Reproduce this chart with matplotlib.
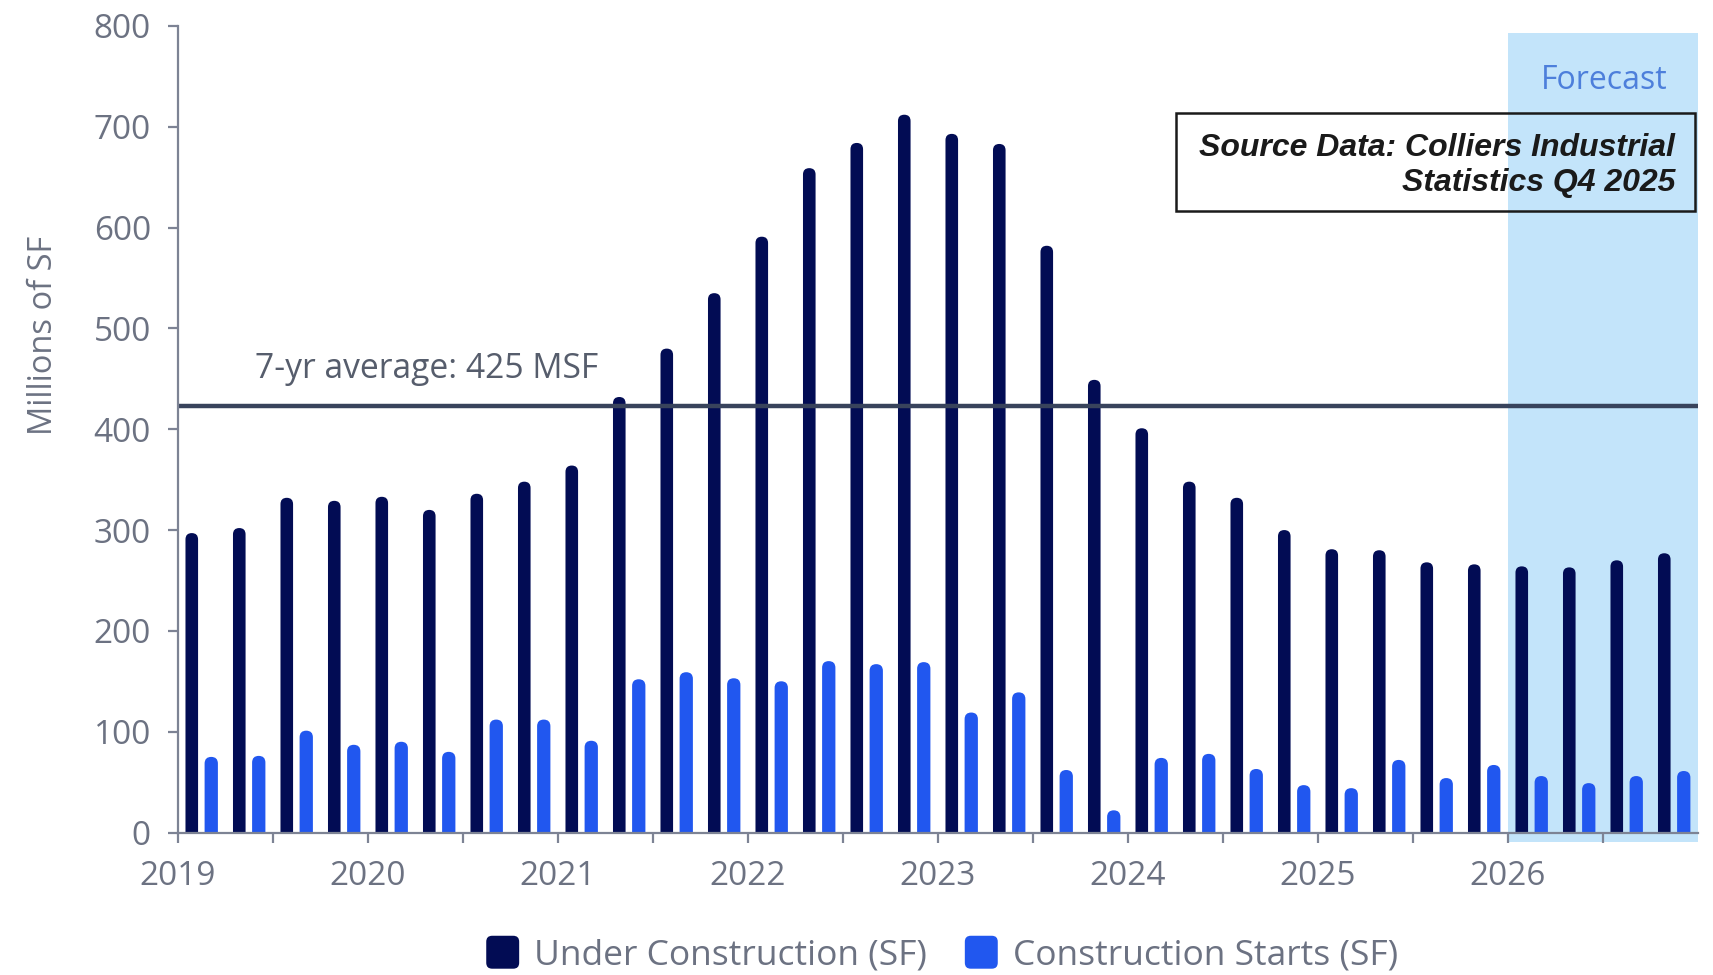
import matplotlib
matplotlib.use("Agg")
import numpy as np
import matplotlib.pyplot as plt
from matplotlib.patches import FancyBboxPatch, Rectangle, Patch
from matplotlib.legend_handler import HandlerPatch

plt.rcParams['font.family'] = ['Open Sans', 'DejaVu Sans']

# ---------------- data ----------------
year_labels = ['2019', '2020', '2021', '2022', '2023', '2024', '2025', '2026']
under_construction = [297, 302, 332, 329, 333, 320, 336, 348, 364, 432, 480, 535,
                      591, 659, 684, 712, 693, 683, 582, 449, 401, 348, 332, 300,
                      281, 280, 268, 266, 264, 263, 270, 277]
construction_starts = [75, 76, 101, 87, 90, 80, 112, 112, 91, 152, 159, 153,
                       150, 170, 167, 169, 119, 139, 62, 22, 74, 78, 63, 47,
                       44, 72, 54, 67, 56, 49, 56, 61]
avg_level = 423
avg_label = '7-yr average: 425 MSF'
forecast_start_q = 28
series_names = ['Under Construction (SF)', 'Construction Starts (SF)']
source_text = 'Source Data: Colliers Industrial\nStatistics Q4 2025'

# ---------------- style ----------------
DARK = '#020c54'
BLUE = '#2157ef'
SHADE = '#c3e4fa'
GRAY_TXT = '#6c7282'
AXIS_C = '#7d8394'

W, H = 1713, 975
fig = plt.figure(figsize=(W / 100, H / 100), dpi=100)
ax_left, ax_right, ax_y0, ax_y800 = 178, 1698, 832.5, 26
ax = fig.add_axes([ax_left / W, (H - ax_y0) / H, (ax_right - ax_left) / W, (ax_y0 - ax_y800) / H])

nq = len(under_construction)
ax.set_xlim(0, nq)
ax.set_ylim(0, 800)

px_per_x = (ax_right - ax_left) / nq
px_per_y = (ax_y0 - ax_y800) / 800
aspect = px_per_x / px_per_y

q = np.arange(nq) + 0.5


def rounded_bars(xpos, heights, width, color):
    bars = ax.bar(xpos, heights, width=width, color=color)
    r = width / 2
    ry = r * aspect
    for rect in bars.patches:
        x0, w, h = rect.get_x(), rect.get_width(), rect.get_height()
        p = FancyBboxPatch((x0, -ry), w, h + ry,
                           boxstyle=f"round,pad=0,rounding_size={r}",
                           mutation_aspect=aspect, facecolor=color,
                           edgecolor='none', zorder=3)
        ax.add_patch(p)
        rect.set_visible(False)


# forecast shading
ax.add_patch(Rectangle((forecast_start_q, -9), nq - forecast_start_q, 802,
                       facecolor=SHADE, edgecolor='none', zorder=0, clip_on=False))
ax.text(forecast_start_q + 2.02, 746, 'Forecast', ha='center', va='center',
        fontsize=23, color='#4d7fdb', zorder=4)

rounded_bars(q - 0.21, under_construction, 0.265, DARK)
rounded_bars(q + 0.20, construction_starts, 0.28, BLUE)

# average line
ax.axhline(avg_level, color='#38435c', lw=3.2, zorder=5)
ax.text(1.62, 451, avg_label, ha='left', va='baseline', fontsize=24.2,
        color='#565d6c', zorder=5)

# axes styling
for s in ['top', 'right']:
    ax.spines[s].set_visible(False)
for s in ['left', 'bottom']:
    ax.spines[s].set_color(AXIS_C)
    ax.spines[s].set_linewidth(1.6)
    ax.spines[s].set_zorder(6)

ax.set_yticks(np.arange(0, 801, 100))
ax.tick_params(axis='y', length=7.5, width=1.6, color=AXIS_C, labelsize=24,
               labelcolor=GRAY_TXT, pad=12)
xt = np.arange(0, nq, 2)
ax.set_xticks(xt)
xlabels = []
for t in xt:
    xlabels.append(year_labels[t // 4] if t % 4 == 0 else '')
ax.set_xticklabels(xlabels)
ax.tick_params(axis='x', length=7.5, width=1.6, color=AXIS_C, labelsize=24,
               labelcolor=GRAY_TXT, pad=12)

fig.text(44 / W, 1 - 335 / H, 'Millions of SF', rotation=90, ha='center',
         va='center', fontsize=23.5, color=GRAY_TXT)

# source box
fig.patches.append(Rectangle((1176 / W, 1 - 210.5 / H), (1695 - 1176) / W, (210.5 - 112.7) / H,
                             transform=fig.transFigure, fill=False,
                             edgecolor='#1a1a1a', lw=1.8, zorder=10))
fig.text(1675 / W, 1 - 191.5 / H, source_text, ha='right', va='baseline',
         fontsize=23, fontweight='bold', fontstyle='italic',
         family=['Liberation Sans', 'DejaVu Sans'], color='#1a1a1a',
         linespacing=1.25, multialignment='right', zorder=11)


# legend
class RoundSquare(HandlerPatch):
    def create_artists(self, legend, orig_handle, xdescent, ydescent, width,
                       height, fontsize, trans):
        s = min(width, height)
        x0 = -xdescent + (width - s) / 2
        y0 = -ydescent + (height - s) / 2
        p = FancyBboxPatch((x0, y0), s, s,
                           boxstyle=f"round,pad=0,rounding_size={s * 0.18}",
                           facecolor=orig_handle.get_facecolor(),
                           edgecolor='none', transform=trans)
        return [p]


handles = [Patch(facecolor=DARK), Patch(facecolor=BLUE)]
leg = fig.legend(handles, series_names, loc='center',
                 bbox_to_anchor=(942 / W, 1 - 954 / H), ncol=2, frameon=False,
                 fontsize=25.5, handlelength=0.93, handleheight=1.06,
                 handletextpad=0.42, columnspacing=1.07,
                 handler_map={Patch: RoundSquare()})
for t in leg.get_texts():
    t.set_color(GRAY_TXT)

fig.savefig('out.png', dpi=100)
